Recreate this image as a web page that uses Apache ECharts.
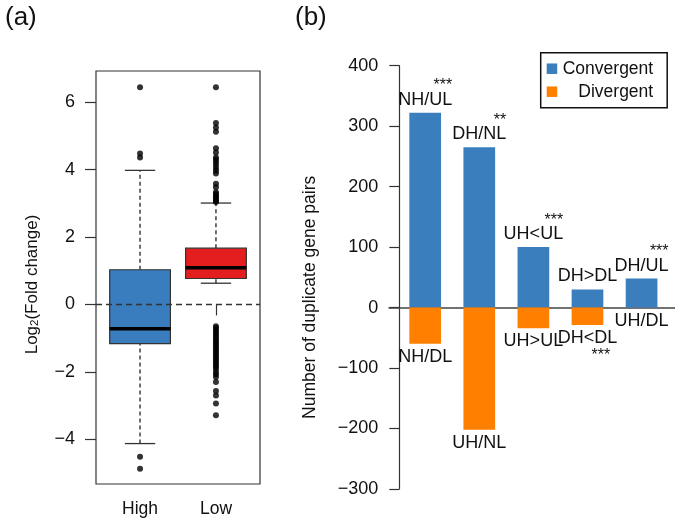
<!DOCTYPE html>
<html><head><meta charset="utf-8">
<script src="https://cdn.jsdelivr.net/npm/echarts@6/dist/echarts.min.js"></script>
<style>html,body{margin:0;padding:0;background:#fff}#c{width:675px;height:522px}</style>
</head><body><div id="c"></div>
<script>
const FONT = 'Liberation Sans, Arial, Helvetica, sans-serif';

// ---------- Panel (a): boxplot data ----------
const groups = ['High', 'Low'];
const boxMin = [-4.13, 0.63];
const boxQ1 = [-1.16, 0.77];
const boxMedian = [-0.72, 1.09];
const boxQ3 = [1.03, 1.67];
const boxMax = [3.98, 3.01];
const boxColors = ['#3A7DBF', '#E41E1E'];
const highOutliers = [6.45, 4.48, 4.36, -4.52, -4.88];
const lowOutliers = [6.45, 5.39, 5.25, 5.13, 4.64, 4.51, 4.36, 4.30, 4.22, 4.14, 4.05, 3.97, 3.89,
  3.58, 3.48, 3.33, 3.28, 3.23, 3.18, 3.13, 3.08, 3.04,
  -0.65, -0.70, -0.76, -0.82, -0.88, -0.94, -1.00, -1.06, -1.12, -1.18, -1.24, -1.30, -1.36,
  -1.42, -1.48, -1.54, -1.60, -1.66, -1.72, -1.78, -1.84, -1.90, -2.00, -2.07, -2.15, -2.30,
  -2.57, -2.70, -2.94, -3.29];
const aTicks = [-4, -2, 0, 2, 4, 6];

// ---------- Panel (b): bar data ----------
const posLabels = ['NH/UL', 'DH/NL', 'UH<UL', 'DH>DL', 'DH/UL'];
const negLabels = ['NH/DL', 'UH/NL', 'UH>UL', 'DH<DL', 'UH/DL'];
const convergent = [322, 265, 100, 30, 48];
const divergent = [-60, -202, -34, -29, 0];
const posSig = ['***', '**', '***', '', '***'];
const negSig = ['', '', '', '***', ''];

const minus = v => String(v).replace('-', '\u2212');

const chart = echarts.init(document.getElementById('c'));
chart.setOption({
  animation: false,
  textStyle: { fontFamily: FONT },
  title: [
    { text: '(a)', left: 0, top: 0, textStyle: { fontSize: 26, fontWeight: 'normal', color: '#111', fontFamily: FONT } },
    { text: '(b)', left: 290, top: 0, textStyle: { fontSize: 26, fontWeight: 'normal', color: '#111', fontFamily: FONT } }
  ],
  legend: {
    data: ['Convergent', 'Divergent'],
    orient: 'vertical',
    left: 540.7, top: 52.7,
    padding: [7, 14, 7, 6],
    itemGap: 5,
    itemWidth: 10.5, itemHeight: 10.5,
    icon: 'rect',
    borderColor: '#111', borderWidth: 1.5,
    formatter: n => '{r|' + n + '}',
    textStyle: { fontSize: 17.5, color: '#111', rich: { r: { fontSize: 17.5, width: 91, align: 'right', lineHeight: 17.5, fontFamily: FONT } } }
  },
  grid: [
    { left: 96, right: 415, top: 71, bottom: 38, show: true, borderColor: '#333', borderWidth: 1.2, outerBoundsMode: 'none' },
    { left: 389, right: 0, top: 65.7, bottom: 33, outerBoundsMode: 'none' }
  ],
  xAxis: [
    { gridIndex: 0, type: 'value', min: 0.42, max: 2.58,
      axisLine: { show: false }, splitLine: { show: false },
      axisTick: { show: true, length: 11, customValues: [1, 2], lineStyle: { color: '#333', width: 1.2 } },
      axisLabel: { customValues: [1, 2], margin: 16, fontSize: 17.5, color: '#111', formatter: v => groups[Math.round(v) - 1] } },
    { gridIndex: 1, type: 'value', min: 0.331, max: 5.618,
      axisLine: { onZero: true, lineStyle: { color: '#444', width: 1.5 } },
      axisTick: { show: false }, axisLabel: { show: false }, splitLine: { show: false } }
  ],
  yAxis: [
    { gridIndex: 0, type: 'value', min: -5.33, max: 6.93,
      axisLine: { show: false }, splitLine: { show: false },
      axisTick: { show: true, length: 11, customValues: aTicks, lineStyle: { color: '#333', width: 1.2 } },
      axisLabel: { customValues: aTicks, margin: 21, fontSize: 18, color: '#111', formatter: minus },
      name: '{a|Log}{s|2}{a|(Fold change)}', nameLocation: 'middle', nameGap: 55,
      nameTextStyle: { padding: [0, 14, 0, 0], rich: {
        a: { fontSize: 17, lineHeight: 17, color: '#111', fontFamily: FONT },
        s: { fontSize: 11.5, lineHeight: 8, verticalAlign: 'bottom', color: '#111', fontFamily: FONT } } } },
    { gridIndex: 1, type: 'value', min: -300, max: 400, interval: 100, offset: -10.3,
      axisLine: { show: true, onZero: false, lineStyle: { color: '#333', width: 1.2 } },
      axisTick: { show: true, length: 10, lineStyle: { color: '#333', width: 1.2 } },
      splitLine: { show: false },
      axisLabel: { margin: 21, fontSize: 18, color: '#111', formatter: minus },
      name: 'Number of duplicate gene pairs', nameLocation: 'middle', nameGap: 80,
      nameTextStyle: { fontSize: 17.5, color: '#111', padding: [0, 40, 0, 0] } }
  ],
  series: [
    { type: 'custom', xAxisIndex: 0, yAxisIndex: 0, silent: true,
      data: groups.map((g, i) => [i + 1, boxMin[i], boxQ1[i], boxMedian[i], boxQ3[i], boxMax[i]]),
      renderItem: function (params, api) {
        const x = api.value(0);
        const half = api.size([0.8, 0])[0] / 2;
        const cap = half / 2;
        const cx = api.coord([x, 0])[0];
        const yMin = api.coord([x, api.value(1)])[1];
        const yQ1 = api.coord([x, api.value(2)])[1];
        const yMd = api.coord([x, api.value(3)])[1];
        const yQ3 = api.coord([x, api.value(4)])[1];
        const yMax = api.coord([x, api.value(5)])[1];
        const dash = { stroke: '#222', lineWidth: 1.3, lineDash: [4, 3] };
        const solid = { stroke: '#333', lineWidth: 1.3 };
        return { type: 'group', children: [
          { type: 'line', shape: { x1: cx, y1: yQ3, x2: cx, y2: yMax }, style: dash },
          { type: 'line', shape: { x1: cx, y1: yMin, x2: cx, y2: yQ1 }, style: dash },
          { type: 'line', shape: { x1: cx - cap, y1: yMax, x2: cx + cap, y2: yMax }, style: solid },
          { type: 'line', shape: { x1: cx - cap, y1: yMin, x2: cx + cap, y2: yMin }, style: solid },
          { type: 'rect', shape: { x: cx - half, y: yQ3, width: 2 * half, height: yQ1 - yQ3 },
            style: { fill: boxColors[params.dataIndex], stroke: '#333', lineWidth: 1.2 } },
          { type: 'line', shape: { x1: cx - half, y1: yMd, x2: cx + half, y2: yMd }, style: { stroke: '#000', lineWidth: 3.5 } }
        ] };
      } },
    { type: 'scatter', xAxisIndex: 0, yAxisIndex: 0, silent: true, symbolSize: 6,
      itemStyle: { color: '#000' },
      data: highOutliers.map(v => [1, v]).concat(lowOutliers.map(v => [2, v])),
      markLine: { silent: true, symbol: 'none', label: { show: false },
        lineStyle: { type: [6, 4], color: '#333', width: 1.3 }, data: [{ yAxis: 0 }] } },
    { name: 'Convergent', type: 'bar', xAxisIndex: 1, yAxisIndex: 1, stack: 'b', barWidth: 31.7,
      itemStyle: { color: '#3A7EBD' },
      data: convergent.map((v, i) => [i + 1, v]),
      label: { show: true, position: 'top', distance: 3,
        formatter: p => (posSig[p.dataIndex] ? '{s|' + posSig[p.dataIndex] + '}\n' : '') + '{t|' + posLabels[p.dataIndex] + '}',
        rich: {
          t: { fontSize: 18, lineHeight: 20, color: '#111', fontFamily: FONT },
          s: { fontSize: 16, lineHeight: 8, align: 'right', color: '#111', fontFamily: FONT } } } },
    { name: 'Divergent', type: 'bar', xAxisIndex: 1, yAxisIndex: 1, stack: 'b', barWidth: 31.7,
      itemStyle: { color: '#FF7F00' },
      data: divergent.map((v, i) => [i + 1, v]),
      label: { show: true, position: 'bottom', distance: 3,
        formatter: p => '{t|' + negLabels[p.dataIndex] + '}' + (negSig[p.dataIndex] ? '\n{s|' + negSig[p.dataIndex] + '}' : ''),
        rich: {
          t: { fontSize: 18, lineHeight: 20, color: '#111', fontFamily: FONT },
          s: { fontSize: 16, lineHeight: 15, align: 'right', padding: [0, 7, 0, 0], color: '#111', fontFamily: FONT } } } }
  ]
});
</script></body></html>
